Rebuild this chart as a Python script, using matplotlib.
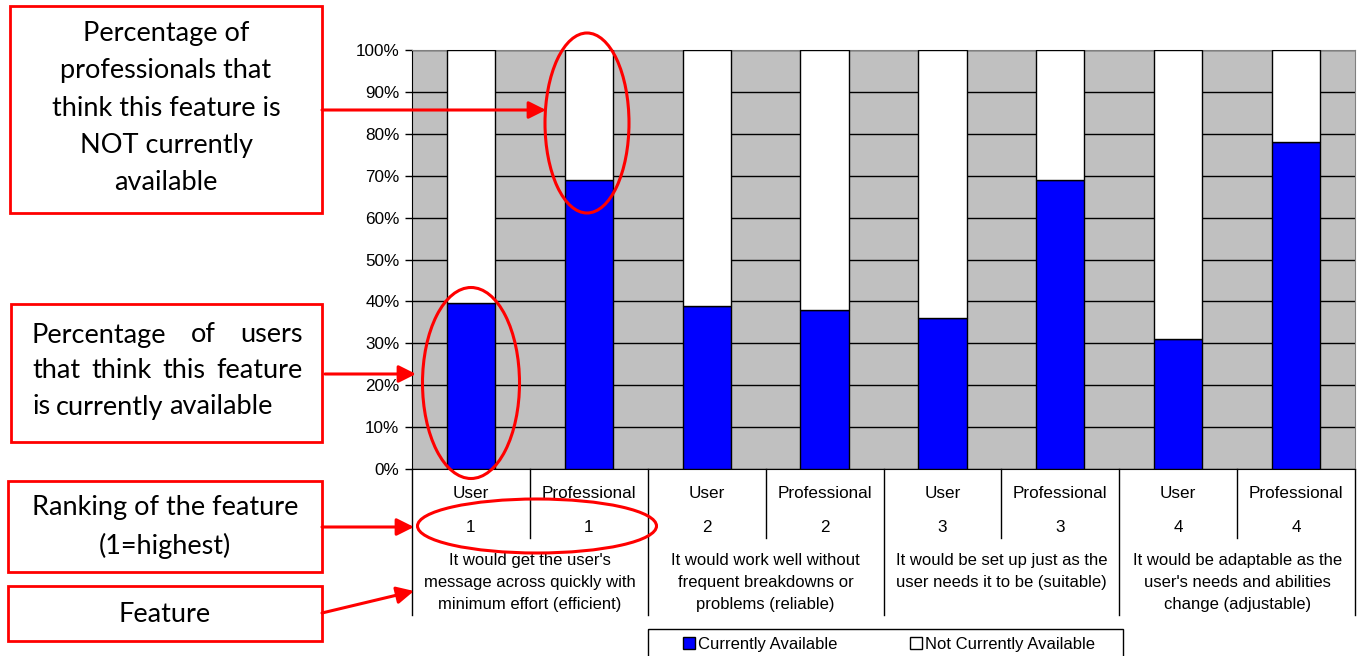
import numpy as np
import matplotlib
matplotlib.use("Agg")
import matplotlib.pyplot as plt
from matplotlib import transforms
from matplotlib.patches import Rectangle, Ellipse, FancyArrowPatch
from matplotlib.ticker import FuncFormatter

plt.rcParams["font.family"] = ["Liberation Sans", "DejaVu Sans"]

# ---------------- data ----------------
roles = ["User", "Professional", "User", "Professional",
         "User", "Professional", "User", "Professional"]
ranks = ["1", "1", "2", "2", "3", "3", "4", "4"]
features = [
    "It would get the user's\nmessage across quickly with\nminimum effort (efficient)",
    "It would work well without\nfrequent breakdowns or\nproblems (reliable)",
    "It would be set up just as the\nuser needs it to be (suitable)",
    "It would be adaptable as the\nuser's needs and abilities\nchange (adjustable)",
]
currently_available = [39.5, 69, 39, 38, 36, 69, 31, 78]
not_currently_available = [60.5, 31, 61, 62, 64, 31, 69, 22]
series_names = ["Currently Available", "Not Currently Available"]
yticks = [0, 10, 20, 30, 40, 50, 60, 70, 80, 90, 100]

# ---------------- figure ----------------
W, H = 1364, 656
fig = plt.figure(figsize=(W / 100, H / 100), dpi=100)
fig.patch.set_facecolor("white")
# pixel transform (x from left, y from top)
px = transforms.Affine2D().scale(1 / W, -1 / H).translate(0, 1) + fig.transFigure

L, R, T, B = 412, 1355, 50, 469
ax = fig.add_axes([L / W, 1 - B / H, (R - L) / W, (B - T) / H])
arial = "Liberation Sans"
fs = 12.3
fs2 = 12.0

x = np.arange(len(roles))
b1 = ax.bar(x, currently_available, width=0.41, color="#0000FF",
            edgecolor="black", linewidth=1, zorder=3, label=series_names[0])
b2 = ax.bar(x, not_currently_available, bottom=currently_available, width=0.41,
            color="white", edgecolor="black", linewidth=1, zorder=3,
            label=series_names[1])
ax.set_xlim(-0.5, len(roles) - 0.5)
ax.set_ylim(0, 100)
ax.set_facecolor("#C0C0C0")
ax.set_yticks(yticks)
ax.yaxis.set_major_formatter(FuncFormatter(lambda v, p: f"{int(v)}%"))
ax.yaxis.grid(True, color="black", linewidth=1, zorder=1)
ax.set_axisbelow(True)
ax.set_xticks([])
ax.tick_params(axis="y", length=5, width=1, pad=4, labelsize=fs, colors="black")
for lab in ax.get_yticklabels():
    lab.set_fontfamily(arial)
ax.spines["left"].set_color("black")
ax.spines["bottom"].set_color("black")
ax.spines["top"].set_color("#808080")
ax.spines["right"].set_color("#808080")

# ---------------- category table below axis ----------------
tr = transforms.blended_transform_factory(ax.transData, px)
n = len(roles)
for k in range(n + 1):
    xe = k - 0.5
    y_end = 615 if k % 2 == 0 else 538
    ax.add_line(plt.Line2D([xe, xe], [B, y_end], transform=tr, color="black",
                           linewidth=1, clip_on=False))
for i in range(n):
    ax.text(i, 494, roles[i], transform=tr, ha="center", va="center",
            fontsize=fs, family=arial, clip_on=False)
    ax.text(i, 527, ranks[i], transform=tr, ha="center", va="center",
            fontsize=fs, family=arial, clip_on=False)
for g, ftxt in enumerate(features):
    ax.text(2 * g + 0.5, 553, ftxt, transform=tr, ha="center", va="top",
            fontsize=fs2, family=arial, linespacing=1.6, clip_on=False)

# ---------------- legend ----------------
fig.patches.append(Rectangle((648, 629), 475, 40, transform=px, fill=False,
                             edgecolor="black", linewidth=1))
leg = fig.legend(handles=[b1, b2], labels=series_names, loc="center left",
                 bbox_to_anchor=(683 / W, 1 - 644 / H), ncol=2, frameon=False,
                 handlelength=0.72, handleheight=0.72, handletextpad=0.15,
                 columnspacing=4.4, borderpad=0, borderaxespad=0,
                 prop={"family": arial, "size": fs2})

# ---------------- annotations ----------------
red = "#FF0000"
cal = "Lato"
afs = 19.5
als = 1.62


def box(x0, y0, x1, y1):
    fig.patches.append(Rectangle((x0, y0), x1 - x0, y1 - y0, transform=px,
                                 fill=False, edgecolor=red, linewidth=2))


def arrow(x0, y0, x1, y1):
    fig.add_artist(FancyArrowPatch(
        (x0, y0), (x1, y1), transform=px, arrowstyle="-|>",
        mutation_scale=26, color=red, linewidth=2.2, shrinkA=0, shrinkB=0))


def ell(cx, cy, w, h):
    fig.patches.append(Ellipse((cx, cy), w, h, transform=px, fill=False,
                               edgecolor=red, linewidth=2.2, zorder=10))


# Box 1
box(10, 6, 322, 213)
fig.text(166 / W, 1 - 108 / H,
         "Percentage of\nprofessionals that\nthink this feature is\nNOT currently\navailable",
         ha="center", va="center", fontsize=afs, family=cal, linespacing=als)
arrow(322, 110, 546, 110)
ell(587, 123, 84, 180)

# Box 2 (justified text)
box(11, 304, 322, 442)
renderer = fig.canvas.get_renderer()


def justify(line, x0, x1, y, last=False):
    words = line.split()
    texts = [fig.text(0, 0, w, transform=px, fontsize=afs, family=cal,
                      va="center", ha="left") for w in words]
    widths = []
    for t in texts:
        bb = t.get_window_extent(renderer=renderer)
        widths.append(bb.width * W / fig.bbox.width)
    if last or len(words) == 1:
        gap = 6.0
    else:
        gap = (x1 - x0 - sum(widths)) / (len(words) - 1)
    cx = x0
    for t, w in zip(texts, widths):
        t.set_position((cx, y))
        cx += w + gap


justify("Percentage of users", 32, 303, 335)
justify("that think this feature", 32, 303, 371)
justify("is currently available", 32, 303, 407, last=True)
arrow(325, 374, 416, 374)
ell(471, 383, 97, 191)

# Box 3
box(8, 481, 322, 572)
fig.text(165 / W, 1 - 527 / H, "Ranking of the feature\n(1=highest)",
         ha="center", va="center", fontsize=afs, family=cal, linespacing=als)
arrow(322, 527, 414, 527)
ell(537, 526, 239, 54)

# Box 4
box(8, 586, 322, 641)
fig.text(165 / W, 1 - 614 / H, "Feature", ha="center", va="center",
         fontsize=afs, family=cal)
arrow(322, 613, 414, 591)

fig.savefig("out.png", dpi=100, facecolor="white")
